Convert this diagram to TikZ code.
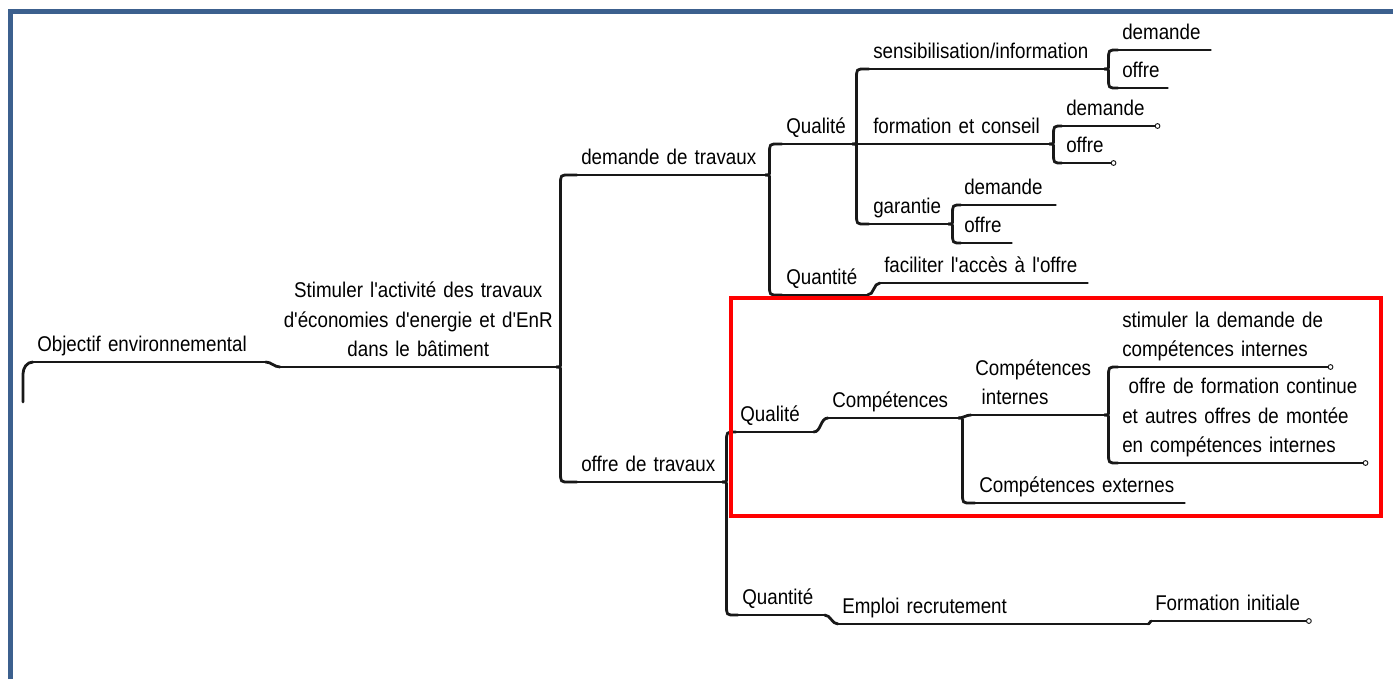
\documentclass[tikz,border=0pt]{standalone}
\usepackage{fontspec}
\setmainfont{Liberation Sans}[FakeStretch=0.88, Ligatures=TeXOff]
\usepackage{tikz}
\usetikzlibrary{calc}
\definecolor{edgeblue}{RGB}{60, 96, 142}
\definecolor{ink}{RGB}{24, 24, 24}

\begin{document}
\begin{tikzpicture}[x=0.75pt, y=-0.75pt, line cap=round,
    font=\fontsize{16}{22}\selectfont,
    stroke/.style={draw=ink, line width=2.1pt},
    item/.style={anchor=south west, inner xsep=3pt, inner ysep=4pt, text depth=3.5pt,
      align=left, text width=#1,
      append after command={(\tikzlastnode.south west) edge[stroke] (\tikzlastnode.south east)}},
    multi/.style={text depth=, inner ysep=1pt},
    fork/.style={to path={let \p1=(\tikztostart), \p2=(\tikztotarget), \n1={sign(\y2-\y1)} in
      .. controls (\x1+3pt,\y1) .. (\x1+3pt,\y1+\n1*3pt)
      -- (\x1+3pt,\y2-\n1*7pt)
      .. controls (\x1+3pt,\y2) .. (\x1+9.5pt,\y2) -- (\p2)}},
    dot/.style={draw=ink, fill=white, line width=0.7pt}]
  \useasboundingbox (0,0) rectangle (1393,679);
  \draw[edgeblue, line width=3.75pt, line cap=butt] (10.5,679) -- (10.5,11.5) -- (1393,11.5);

  \node[item=168pt] (root) at (33,362) {Objectif environnemental};
  \node[item=205pt, multi, inner xsep=1pt, align=center] (stim) at (280,367)
    {Stimuler l'activité des travaux\\d'économies d'energie et d'EnR\\dans le bâtiment\strut};
  \node[item=135pt] (dt) at (577,175) {demande de travaux};
  \node[item=102.75pt] (ot) at (577,482) {offre de travaux};

  \node[item=46.5pt] (q1) at (782,144) {Qualité};
  \node[item=57.75pt] (n1) at (782,295) {Quantité};
  \node[item=170.25pt] (si) at (869,69) {sensibilisation/information};
  \node[item=129pt] (fc) at (869,144) {formation et conseil};
  \node[item=53.25pt] (ga) at (869,224) {garantie};
  \node[item=63pt] (sd) at (1118,50) {demande};
  \node[item=30.75pt] (so) at (1118,88) {offre};
  \node[item=65.25pt] (fd) at (1062,126) {demande};
  \node[item=32.25pt] (fo) at (1062,163) {offre};
  \node[item=65.25pt] (gd) at (960,205) {demande};
  \node[item=32.25pt] (go) at (960,243) {offre};
  \node[item=149.25pt] (fa) at (880,283) {faciliter l'accès à l'offre};

  \node[item=51.75pt] (q2) at (736,432) {Qualité};
  \node[item=58.5pt] (n2) at (738,615) {Quantité};
  \node[item=91.5pt] (co) at (828,418) {Compétences};
  \node[item=93.75pt, multi] (ci) at (971,415) {Compétences\\\hspace*{0.3em}internes\strut};
  \node[item=150.75pt] (ce) at (975,503) {Compétences externes};
  \node[item=153pt, multi] (sc) at (1118,367) {stimuler la demande de\\compétences internes\strut};
  \node[item=179.25pt, multi] (of) at (1118,463)
    {\hspace*{0.3em}offre de formation continue\\et autres offres de montée\\en compétences internes\strut};
  \node[item=226.5pt] (er) at (838,624) {Emploi recrutement};
  \node[item=112pt] (fi) at (1151,621) {Formation initiale};

  \coordinate (off) at (23,402);
  \draw[stroke] (off) -- ++(0,-28) to[out=90, in=180] (root.south west);
  \draw[stroke] (q1.south east) -- (fc.south west);
  \foreach \a/\b in {stim/dt, stim/ot, dt/q1, dt/n1, q1/si, q1/ga, si/sd, si/so, fc/fd, fc/fo,
      ga/gd, ga/go, ot/q2, ot/n2, co/ce, ci/sc, ci/of}
    \draw[stroke] (\a.south east) to[fork] (\b.south west);
  \foreach \a/\b in {root/stim, n1/fa, q2/co, co/ci, n2/er, er/fi}
    \draw[stroke] (\a.south east) to[out=0, in=180] (\b.south west);
  \foreach \n in {fd, fo, sc, of, fi}
    \draw[dot] (\n.south east) circle (1.8pt);

  \draw[red, line width=3pt] (731,298) rectangle (1381,516);
\end{tikzpicture}
\end{document}
